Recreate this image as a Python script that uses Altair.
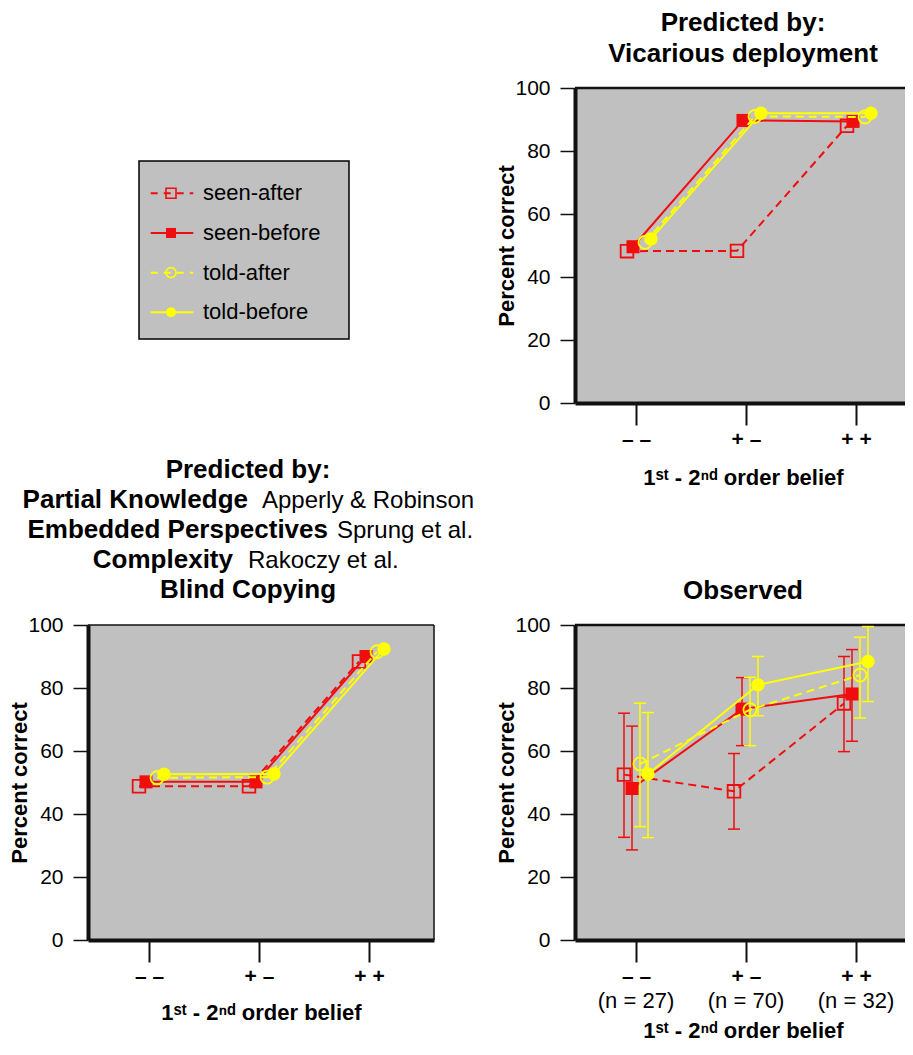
import altair as alt
import pandas as pd

# ---------------- data ----------------
conditions = ["– –", "+ –", "+ +"]
series = ["seen-after", "seen-before", "told-after", "told-before"]
n_labels = ["(n = 27)", "(n = 70)", "(n = 32)"]
y_ticks = [0, 20, 40, 60, 80, 100]

# Predicted by: Vicarious deployment
vic_seen_after = [48.2, 48.3, 88.0]
vic_seen_before = [49.6, 89.7, 89.4]
vic_told_after = [51.0, 91.0, 90.8]
vic_told_before = [52.1, 92.0, 92.0]

# Predicted by: Partial Knowledge / Embedded Perspectives / Complexity / Blind Copying
blind_seen_after = [48.8, 48.8, 88.4]
blind_seen_before = [50.2, 50.2, 90.0]
blind_told_after = [51.5, 51.7, 91.5]
blind_told_before = [52.6, 52.7, 92.4]

# Observed (means and error-bar ends)
obs_seen_after = [52.5, 47.2, 75.1]
obs_seen_after_lo = [32.6, 35.2, 59.8]
obs_seen_after_hi = [72.0, 59.2, 90.0]
obs_seen_before = [48.1, 73.3, 78.1]
obs_seen_before_lo = [28.6, 61.7, 63.1]
obs_seen_before_hi = [67.9, 83.3, 92.2]
obs_told_after = [55.9, 73.1, 84.1]
obs_told_after_lo = [36.0, 61.7, 70.5]
obs_told_after_hi = [75.2, 83.4, 96.1]
obs_told_before = [52.7, 81.0, 88.4]
obs_told_before_lo = [32.5, 71.2, 75.7]
obs_told_before_hi = [72.2, 90.0, 99.5]

tr_title = ["Predicted by:", "Vicarious deployment"]
bl_title_bold = ["Predicted by:", "Partial Knowledge", "Embedded Perspectives", "Complexity", "Blind Copying"]
bl_title_normal = ["", "Apperly & Robinson", "Sprung et al.", "Rakoczy et al.", ""]
br_title = ["Observed"]
x_title = "1ˢᵗ - 2ⁿᵈ order belief"
y_title = "Percent correct"

# ---------------- style ----------------
FONT = "Liberation Sans"
RED = "#f00d0d"
YEL = "#ffff00"
BG = "#c0c0c0"
INK = "#111111"
H = 315
WL = 346
WR = 336
STEP = 110
FIRST = 61
DASH = [8, 5]

STYLE = {
    "seen-after": dict(color=RED, dash=True, shape="square", filled=False, size=160),
    "seen-before": dict(color=RED, dash=False, shape="square", filled=True, size=170),
    "told-after": dict(color=YEL, dash=True, shape="circle", filled=False, size=170),
    "told-before": dict(color=YEL, dash=False, shape="circle", filled=True, size=180),
}


def xscale(width):
    return alt.Scale(type="point", domain=conditions,
                     padding=(width / STEP - 2) / 2,
                     align=FIRST / (width - 2 * STEP))


def x_axis(title_pad):
    return alt.Axis(title=x_title, labelAngle=0, labelFont=FONT, labelFontSize=21,
                    labelFontWeight="bold", labelColor="black", labelPadding=3,
                    tickSize=22, tickWidth=2, tickColor=INK, domainWidth=4,
                    domainColor=INK, titleFont=FONT, titleFontSize=22,
                    titleFontWeight="bold", titleColor="black",
                    titlePadding=title_pad, grid=False, zindex=1)


y_axis = alt.Axis(values=y_ticks, title=y_title, labelFont=FONT, labelFontSize=21,
                  labelColor="black", labelPadding=10, tickSize=15, tickWidth=1.5,
                  tickColor=INK, domainWidth=4, domainColor=INK, titleFont=FONT,
                  titleFontSize=22, titleFontWeight="bold", titleColor="black",
                  titlePadding=-4, grid=False, zindex=1)

one = pd.DataFrame({"k": [0]})


def text_layer(txt, x, y, size, weight, align="center"):
    return alt.Chart(pd.DataFrame({"t": [txt]})).mark_text(
        font=FONT, fontSize=size, fontWeight=weight, color="black",
        align=align, baseline="alphabetic").encode(
        x=alt.value(x), y=alt.value(y), text="t:N")


def panel(values, width, dxs, lows=None, highs=None, title_pad=14):
    xs = xscale(width)
    ys = alt.Scale(domain=[0, 100], nice=False)
    xa = x_axis(title_pad)
    xe = alt.X("cond:N", scale=xs, sort=conditions, axis=xa)
    layers = []
    for k, s in enumerate(series):
        st = STYLE[s]
        dx = dxs[k]
        df = pd.DataFrame({"cond": conditions, "idx": [0, 1, 2], "val": values[k]})
        if lows is not None:
            df["lo"] = lows[k]
            df["hi"] = highs[k]
        base = alt.Chart(df)
        if lows is not None:
            layers.append(base.mark_rule(color=st["color"], strokeWidth=1.5, xOffset=dx).encode(
                x=xe, y=alt.Y("lo:Q", scale=ys, axis=y_axis), y2="hi:Q"))
            for f in ["lo", "hi"]:
                layers.append(base.mark_tick(color=st["color"], size=12, thickness=1.5,
                                             orient="horizontal", xOffset=dx, opacity=1).encode(
                    x=xe, y=alt.Y(f + ":Q", scale=ys, axis=y_axis)))
        lk = dict(color=st["color"], strokeWidth=2, xOffset=dx)
        if st["dash"]:
            lk["strokeDash"] = DASH
        ye = alt.Y("val:Q", scale=ys, axis=y_axis)
        layers.append(base.mark_line(**lk).encode(x=xe, y=ye, order="idx:Q"))
        layers.append(base.mark_point(shape=st["shape"], filled=st["filled"], size=st["size"],
                                      color=st["color"], strokeWidth=1.8, opacity=1,
                                      xOffset=dx).encode(x=xe, y=ye))
    return layers, xe


# ---------------- legend panel ----------------
leg_df = pd.DataFrame({"series": series})
leg_y = alt.Y("series:N", scale=alt.Scale(type="point", domain=series,
                                          range=[105.3, 224.3], padding=0), axis=None)
leg_layers = [alt.Chart(one).mark_rect(fill=BG, stroke="black", strokeWidth=1.5).encode(
    x=alt.value(51), x2=alt.value(261), y=alt.value(73), y2=alt.value(251))]
for s in series:
    st = STYLE[s]
    d = leg_df[leg_df.series == s]
    rk = dict(color=st["color"], strokeWidth=2)
    if st["dash"]:
        rk["strokeDash"] = [7, 6]
    leg_layers.append(alt.Chart(d).mark_rule(**rk).encode(
        x=alt.value(62.7), x2=alt.value(105.3), y=leg_y))
    leg_layers.append(alt.Chart(d).mark_point(shape=st["shape"], filled=st["filled"], size=100,
                                              color=st["color"], strokeWidth=1.6, opacity=1).encode(
        x=alt.value(83), y=leg_y))
leg_layers.append(alt.Chart(leg_df).mark_text(font=FONT, fontSize=22, color="black",
                                              align="left", baseline="middle").encode(
    x=alt.value(115), y=leg_y, text="series:N"))
legend_chart = alt.layer(*leg_layers).properties(width=WL, height=H)

# ---------------- top right: vicarious deployment ----------------
tr_layers = [alt.Chart(one).mark_rule(color=INK, strokeWidth=2.5).encode(
    x=alt.value(0), x2=alt.value(WR), y=alt.value(0))]
lay, _ = panel([vic_seen_after, vic_seen_before, vic_told_after, vic_told_before],
               WR, [-9, -3, 9, 15], title_pad=18)
tr_layers += lay
tr_layers.append(text_layer(tr_title[0], WR / 2, -57.5, 26, "bold"))
tr_layers.append(text_layer(tr_title[1], WR / 2, -25.7, 26, "bold"))
top_right = alt.layer(*tr_layers).properties(
    width=WR, height=H, view=alt.ViewBackground(fill=BG, strokeWidth=0))

# ---------------- bottom left: blind copying ----------------
bl_layers = [
    alt.Chart(one).mark_rule(color=INK, strokeWidth=1.5).encode(
        x=alt.value(0), x2=alt.value(WL), y=alt.value(0)),
    alt.Chart(one).mark_rule(color=INK, strokeWidth=1.5).encode(
        x=alt.value(WL), y=alt.value(0), y2=alt.value(H)),
]
lay, _ = panel([blind_seen_after, blind_seen_before, blind_told_after, blind_told_before],
               WL, [-10, -3, 8, 15], title_pad=16)
bl_layers += lay
bl_base = [-147, -117, -87, -57, -27]
bl_split = [None, (160, 174), (240, 249), (145, 160), None]
for i in range(5):
    if bl_split[i] is None:
        bl_layers.append(text_layer(bl_title_bold[i], 160, bl_base[i], 26, "bold"))
    else:
        bl_layers.append(text_layer(bl_title_bold[i], bl_split[i][0], bl_base[i], 26, "bold", "right"))
        bl_layers.append(text_layer(bl_title_normal[i], bl_split[i][1], bl_base[i], 24, "normal", "left"))
bottom_left = alt.layer(*bl_layers).properties(
    width=WL, height=H, view=alt.ViewBackground(fill=BG, strokeWidth=0))

# ---------------- bottom right: observed ----------------
br_layers = [alt.Chart(one).mark_rule(color=INK, strokeWidth=2.5).encode(
    x=alt.value(0), x2=alt.value(WR), y=alt.value(0))]
lay, xe_br = panel([obs_seen_after, obs_seen_before, obs_told_after, obs_told_before],
                   WR, [-12, -4, 4, 12],
                   lows=[obs_seen_after_lo, obs_seen_before_lo, obs_told_after_lo, obs_told_before_lo],
                   highs=[obs_seen_after_hi, obs_seen_before_hi, obs_told_after_hi, obs_told_before_hi],
                   title_pad=34)
br_layers += lay
br_layers.append(alt.Chart(pd.DataFrame({"cond": conditions, "n": n_labels})).mark_text(
    font=FONT, fontSize=22, color="black", baseline="middle").encode(
    x=xe_br, y=alt.value(H + 61), text="n:N"))
br_layers.append(text_layer(br_title[0], WR / 2, -26, 26, "bold"))
bottom_right = alt.layer(*br_layers).properties(
    width=WR, height=H, view=alt.ViewBackground(fill=BG, strokeWidth=0))

chart = alt.concat(legend_chart, top_right, bottom_left, bottom_right, columns=2,
                   bounds="flush", spacing={"row": 222, "column": 141}).properties(
    padding={"top": 1, "left": 0, "right": -8, "bottom": 0}).configure_view(strokeWidth=0)

chart.save("out.html", embed_options={"renderer": "svg", "actions": False})
